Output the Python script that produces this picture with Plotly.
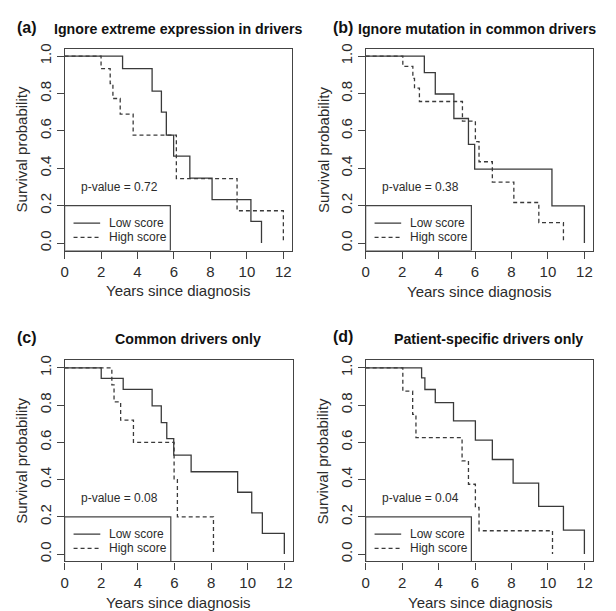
import plotly.graph_objects as go

# ---------------- data ----------------
panel_labels = ["(a)", "(b)", "(c)", "(d)"]
panel_titles = ["Ignore extreme expression in drivers",
                "Ignore mutation in common drivers",
                "Common drivers only",
                "Patient-specific drivers only"]
p_values = ["0.72", "0.38", "0.08", "0.04"]

a_low_t = [3.18, 4.80, 5.31, 5.58, 5.98, 6.87, 8.09, 10.22, 10.80]
a_low_s = [0.933, 0.813, 0.700, 0.577, 0.465, 0.347, 0.232, 0.116, 0.0]
a_high_t = [2.00, 2.50, 2.65, 3.05, 3.76, 6.13, 9.46, 12.00]
a_high_s = [0.933, 0.853, 0.773, 0.690, 0.577, 0.345, 0.173, 0.0]

b_low_t = [3.22, 3.82, 4.84, 5.64, 5.98, 10.22, 12.00]
b_low_s = [0.911, 0.797, 0.666, 0.528, 0.395, 0.199, 0.0]
b_high_t = [2.04, 2.59, 2.68, 2.95, 5.31, 6.02, 6.22, 6.95, 8.13, 9.50, 10.85]
b_high_s = [0.945, 0.881, 0.828, 0.757, 0.652, 0.543, 0.435, 0.326, 0.217, 0.109, 0.0]

c_low_t = [2.00, 3.20, 4.78, 5.28, 5.58, 5.96, 6.91, 9.45, 10.22, 10.80, 12.00]
c_low_s = [0.944, 0.885, 0.796, 0.706, 0.620, 0.531, 0.442, 0.332, 0.221, 0.111, 0.0]
c_high_t = [2.58, 2.70, 3.06, 3.76, 5.98, 6.16, 8.13]
c_high_s = [0.909, 0.818, 0.720, 0.600, 0.400, 0.200, 0.0]

d_low_t = [3.07, 3.25, 3.82, 4.82, 6.02, 6.95, 8.09, 9.49, 10.85, 12.00]
d_low_s = [0.947, 0.884, 0.813, 0.715, 0.612, 0.508, 0.381, 0.256, 0.128, 0.0]
d_high_t = [2.04, 2.58, 2.76, 5.29, 5.64, 6.02, 6.22, 10.25]
d_high_s = [0.875, 0.750, 0.625, 0.500, 0.375, 0.250, 0.125, 0.0]

series_names = ["Low score", "High score"]
x_ticks = [0, 2, 4, 6, 8, 10, 12]
y_ticks = [0.0, 0.2, 0.4, 0.6, 0.8, 1.0]
y_tick_text = ["0.0", "0.2", "0.4", "0.6", "0.8", "1.0"]
x_label = "Years since diagnosis"
y_label = "Survival probability"

# ---------------- layout geometry (pixels) ----------------
W, H = 616, 611
FONT = "Liberation Sans, Arial, sans-serif"
INK = "#2b2b2b"
LINE = "#3a3a3a"

def px(x):
    return x / W

def py(y):
    return 1 - y / H

panels = [
    dict(low=(a_low_t, a_low_s), high=(a_high_t, a_high_s),
         xd=(61, 290), yd=(44, 248), lab=(23, 23),
         title=(48, 24, "left"), xt=(175.5, 288.5), yt=(18, 146)),
    dict(low=(b_low_t, b_low_s), high=(b_high_t, b_high_s),
         xd=(364, 593), yd=(44, 248), lab=(341, 23),
         title=(354, 24, "left"), xt=(479, 289), yt=(321.5, 146)),
    dict(low=(c_low_t, c_low_s), high=(c_high_t, c_high_s),
         xd=(61, 291), yd=(359, 562), lab=(23, 335.5),
         title=(185, 337, "center"), xt=(176, 603), yt=(18, 460.5)),
    dict(low=(d_low_t, d_low_s), high=(d_high_t, d_high_s),
         xd=(364, 593), yd=(359, 562), lab=(341, 335),
         title=(488, 337, "center"), xt=(480, 603), yt=(321.5, 460.5)),
]

fig = go.Figure()
annotations = []
shapes = []

for i, p in enumerate(panels):
    k = "" if i == 0 else str(i + 1)
    xa, ya = "x" + k, "y" + k
    for (t, s), name, dash in [(p["low"], series_names[0], "solid"),
                               (p["high"], series_names[1], "4px,3px")]:
        fig.add_trace(go.Scatter(
            x=[0] + list(t), y=[1.0] + list(s), mode="lines",
            line=dict(shape="hv", color=LINE, width=1.3, dash=dash),
            name=name, showlegend=False, xaxis=xa, yaxis=ya,
            hoverinfo="skip"))

    axis_common = dict(showline=True, mirror=True, linecolor="#444",
                       linewidth=1.2, ticks="outside", ticklen=7,
                       tickcolor="#444", tickwidth=1, showgrid=False,
                       zeroline=False,
                       tickfont=dict(family=FONT, size=15, color=INK))
    fig.layout["xaxis" + k] = dict(
        axis_common, domain=[px(p["xd"][0]), px(p["xd"][1])],
        range=[0, 12.48], tickvals=x_ticks, anchor=ya)
    fig.layout["yaxis" + k] = dict(
        axis_common, domain=[py(p["yd"][1]), py(p["yd"][0])],
        range=[-0.04, 1.04], tickvals=y_ticks, ticktext=y_tick_text,
        tickangle=-90, anchor=xa)

    # panel label and title
    annotations.append(dict(x=px(p["lab"][0]), y=py(p["lab"][1]),
                            xref="paper", yref="paper", text="<b>" + panel_labels[i] + "</b>",
                            showarrow=False, xanchor="center", yanchor="middle",
                            font=dict(family=FONT, size=16, color="#111")))
    tx, ty, anc = p["title"]
    annotations.append(dict(x=px(tx), y=py(ty), xref="paper", yref="paper",
                            text="<b>" + panel_titles[i] + "</b>", showarrow=False,
                            xanchor=anc, yanchor="middle",
                            font=dict(family=FONT, size=14.2, color="#111")))
    # axis titles
    annotations.append(dict(x=px(p["xt"][0]), y=py(p["xt"][1]), xref="paper", yref="paper",
                            text=x_label, showarrow=False, xanchor="center",
                            yanchor="middle", font=dict(family=FONT, size=15, color=INK)))
    annotations.append(dict(x=px(p["yt"][0]), y=py(p["yt"][1]), xref="paper", yref="paper",
                            text=y_label, showarrow=False, textangle=-90,
                            xanchor="center", yanchor="middle",
                            font=dict(family=FONT, size=15, color=INK)))
    # p-value
    annotations.append(dict(x=3.0, y=0.3, xref=xa, yref=ya,
                            text="p-value = " + p_values[i], showarrow=False,
                            xanchor="center", yanchor="middle",
                            font=dict(family=FONT, size=12, color=INK)))
    # legend box (bottom-left, R style)
    shapes.append(dict(type="rect", xref=xa, yref=ya, x0=0, x1=5.8, y0=-0.04, y1=0.2,
                       line=dict(color="#444", width=1.2), fillcolor="rgba(0,0,0,0)"))
    for j, (name, dash, yy) in enumerate([(series_names[0], "solid", 0.107),
                                          (series_names[1], "4px,3px", 0.030)]):
        shapes.append(dict(type="line", xref=xa, yref=ya, x0=0.49, x1=1.95, y0=yy, y1=yy,
                           line=dict(color=LINE, width=1.2, dash=dash)))
        annotations.append(dict(x=2.33, y=yy, xref=xa, yref=ya, text=name,
                                showarrow=False, xanchor="left", yanchor="middle",
                                font=dict(family=FONT, size=12, color=INK)))

fig.update_layout(width=W, height=H, margin=dict(l=0, r=0, t=0, b=0),
                  paper_bgcolor="white", plot_bgcolor="white",
                  annotations=annotations, shapes=shapes, showlegend=False)

fig.write_html("out.html")
